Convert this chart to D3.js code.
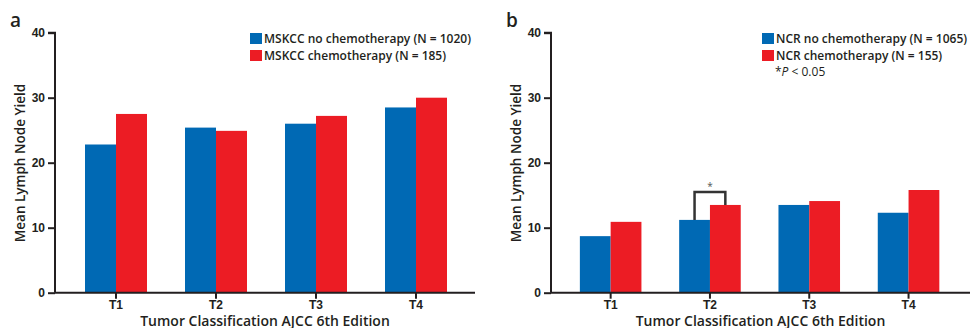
<!DOCTYPE html>
<html lang="en">
<head>
  <meta charset="UTF-8">
  <title>Lymph node yield</title>
  <style>
    *{ margin:0; padding:0; box-sizing:border-box }
    html, body { width:971px; height:328px; background:#fff; overflow:hidden }
    svg { display:block; font-family:"Open Sans", sans-serif }
    .tick text { font-size:12px; font-weight:600; fill:#231f20 }
    .lbl { font-weight:600; fill:#231f20 }
  </style>
  <script src="https://cdn.jsdelivr.net/npm/d3@7/dist/d3.min.js"></script>
</head>
<body>
  <svg id="chart" width="971" height="328"></svg>
  <script>
    // data
    const categories = ["T1", "T2", "T3", "T4"];
    const yTicks = [0, 10, 20, 30, 40];
    const mskccNoChemo = [22.8, 25.4, 26.0, 28.5];
    const mskccChemo   = [27.5, 24.9, 27.2, 30.0];
    const ncrNoChemo   = [8.7, 11.2, 13.5, 12.3];
    const ncrChemo     = [10.9, 13.5, 14.1, 15.8];
    const legendA = ["MSKCC no chemotherapy (N = 1020)", "MSKCC chemotherapy (N = 185)"];
    const legendB = ["NCR no chemotherapy (N = 1065)", "NCR chemotherapy (N = 155)"];

    const BLUE = "#0069b4", RED = "#ec1c24", INK = "#231f20";
    const svg = d3.select("#chart");

    function panel(o){
      const g = svg.append("g");
      const y = d3.scaleLinear().domain([0, 40]).range([292.7, 32.7]);
      const x = d3.scaleBand().domain(categories)
        .range([o.x0, o.x0 + o.step*4]).paddingInner(0.38).paddingOuter(0.19);
      const bw = x.bandwidth()/2;

      // bars
      [o.s1, o.s2].forEach((vals, k)=>{
        g.append("g").selectAll("rect").data(vals).join("rect")
          .attr("x", (d,i)=>x(categories[i]) + k*bw)
          .attr("y", d=>y(d))
          .attr("width", bw)
          .attr("height", d=>y(0)-y(d))
          .attr("fill", k ? RED : BLUE);
      });

      // y axis
      const ya = g.append("g").attr("transform", `translate(${o.ax},0)`)
        .call(d3.axisLeft(y).tickValues(yTicks).tickSize(7).tickPadding(3));
      ya.select(".domain").attr("d", `M-7,${y(40)}H0V${y(0)}`);
      ya.selectAll("line, path").attr("stroke", INK).attr("stroke-width", 2);

      // x axis
      const xa = g.append("g").attr("transform", `translate(0,${y(0)})`)
        .call(d3.axisBottom(x).tickSize(6).tickPadding(2));
      xa.select(".domain").attr("d", `M${o.ax},0H${o.axEnd}`);
      xa.selectAll("line, path").attr("stroke", INK).attr("stroke-width", 2);
      xa.selectAll(".tick text").attr("dy", "0.72em");

      // titles
      g.append("text").attr("class", "lbl")
        .attr("x", (o.ax + o.axEnd)/2).attr("y", 325.5)
        .attr("text-anchor", "middle").attr("font-size", 14)
        .text("Tumor Classification AJCC 6th Edition");
      g.append("text").attr("class", "lbl")
        .attr("transform", `translate(${o.ax-30},163) rotate(-90)`)
        .attr("text-anchor", "middle").attr("font-size", 13.5)
        .text("Mean Lymph Node Yield");
      g.append("text").attr("class", "lbl")
        .attr("x", o.ax-45).attr("y", 27).attr("font-size", 19).attr("font-weight", 700)
        .text(o.tag);

      // legend
      o.legend.forEach((t, i)=>{
        g.append("rect").attr("x", o.lx).attr("y", 33 + i*17)
          .attr("width", 12).attr("height", 11).attr("fill", i ? RED : BLUE);
        g.append("text").attr("class", "lbl")
          .attr("x", o.lx + 14).attr("y", 43 + i*17).attr("font-size", 12)
          .text(t);
      });
      return {g, x, y, bw};
    }

    panel({tag:"a", x0:66, step:100, ax:55, axEnd:475,
      s1:mskccNoChemo, s2:mskccChemo, legend:legendA, lx:250});
    const pb = panel({tag:"b", x0:561, step:99.3, ax:551, axEnd:970,
      s1:ncrNoChemo, s2:ncrChemo, legend:legendB, lx:762});

    // significance note
    const note = pb.g.append("text").attr("x", 775).attr("y", 76)
      .attr("font-size", 12).attr("fill", INK);
    note.append("tspan").text("*");
    note.append("tspan").attr("font-style", "italic").text("P");
    note.append("tspan").text(" < 0.05");

    // T2 bracket
    const xl = pb.x("T2") + pb.bw/2, xr = pb.x("T2") + pb.bw*1.5;
    pb.g.append("path")
      .attr("d", `M${xl},${pb.y(ncrNoChemo[1])}V${pb.y(15.5)}H${xr}V${pb.y(ncrChemo[1])}`)
      .attr("fill", "none").attr("stroke", "#333").attr("stroke-width", 2.5);
    pb.g.append("text").attr("x", (xl+xr)/2).attr("y", pb.y(15.5)-2)
      .attr("text-anchor", "middle").attr("font-size", 10).attr("fill", "#555")
      .text("*");
  </script>
</body>
</html>
